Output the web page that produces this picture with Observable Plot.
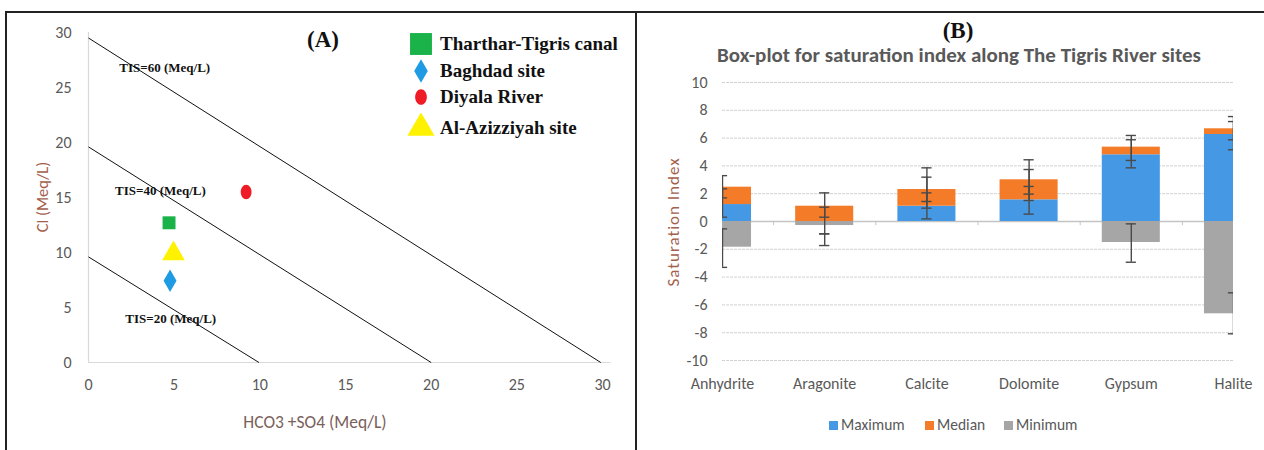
<!DOCTYPE html>
<html>
<head>
<meta charset="utf-8">
<script src="https://cdn.jsdelivr.net/npm/d3@7"></script>
<script src="https://cdn.jsdelivr.net/npm/@observablehq/plot@0.6"></script>
<style>
  html, body { margin: 0; padding: 0; background: #fff; }
  #wrap { position: relative; width: 1264px; height: 450px; overflow: hidden; background: #fff; }
  .abs { position: absolute; white-space: nowrap; }
  .ctr { transform: translate(-50%, -50%); }
  .serifb { font-family: "Liberation Serif", "Times New Roman", serif; font-weight: bold; color: #111; }
  .sans { font-family: Carlito, Lato, "Open Sans", sans-serif; }
  .line { position: absolute; background: #222; }
</style>
</head>
<body>
<div id="wrap">
  <div id="panelA" class="abs" style="left:0;top:0;width:636px;height:450px"></div>
  <div id="panelB" class="abs" style="left:636px;top:0;width:628px;height:450px"></div>
  <div class="line" style="left:5px;top:11px;width:1259px;height:2px"></div>
  <div class="line" style="left:5px;top:11px;width:1.5px;height:439px"></div>
  <div class="line" style="left:635px;top:11px;width:1.5px;height:439px"></div>
</div>
<script>
// ---------------- Panel A data ----------------
const sites = ["Tharthar-Tigris canal", "Baghdad site", "Diyala River", "Al-Azizziyah site"];
const hco3so4 = [4.7, 4.76, 9.2, 4.96];
const chloride = [12.7, 7.43, 15.5, 9.9];
const tisLabels = ["TIS=20 (Meq/L)", "TIS=40 (Meq/L)", "TIS=60 (Meq/L)"];
const tisYIntercept = [9.6, 19.6, 29.5];
const tisXIntercept = [9.95, 20, 29.9];
const tisLabelX = [4.8, 4.2, 4.45];
const tisLabelY = [4.0, 15.6, 26.8];
const axisATicks = [0, 5, 10, 15, 20, 25, 30];

// ---------------- Panel B data ----------------
const minerals = ["Anhydrite", "Aragonite", "Calcite", "Dolomite", "Gypsum", "Halite"];
const seriesNames = ["Maximum", "Median", "Minimum"];
const maximum = [1.22, 0, 1.1, 1.56, 4.8, 6.26];
const median = [1.25, 1.1, 1.2, 1.44, 0.55, 0.41];
const minimum = [-1.85, -0.29, 0, 0, -1.51, -6.64];
const maxErrLo = [0.31, -0.89, 0.19, 0.53, 3.86, 5.16];
const maxErrHi = [2.35, 1.03, 2.06, 2.52, 5.88, 7.19];
const medErrLo = [1.7, 0.31, 1.44, 1.51, 4.39, 5.88];
const medErrHi = [3.3, 2.06, 3.19, 4.44, 6.19, 7.55];
const minErrLo = [-3.3, -1.73, 0.96, 1.97, -2.93, -8.08];
const minErrHi = [-0.53, -0.89, 3.86, 3.74, -0.17, -5.13];
const axisBTicks = [-10, -8, -6, -4, -2, 0, 2, 4, 6, 8, 10];

// ---------------- styles ----------------
const SANS = "Carlito, Lato, 'Open Sans', sans-serif";
const SERIF = "'Liberation Serif', 'Times New Roman', serif";
const ellipse = {
  draw(ctx, size) {
    const r = Math.sqrt(size / Math.PI), rx = r * 0.82, ry = r * 1.1, k = 0.5523;
    ctx.moveTo(rx, 0);
    ctx.bezierCurveTo(rx, ry * k, rx * k, ry, 0, ry);
    ctx.bezierCurveTo(-rx * k, ry, -rx, ry * k, -rx, 0);
    ctx.bezierCurveTo(-rx, -ry * k, -rx * k, -ry, 0, -ry);
    ctx.bezierCurveTo(rx * k, -ry, rx, -ry * k, rx, 0);
    ctx.closePath();
  }
};
const siteStyle = {
  "Tharthar-Tigris canal": {symbol: d3.symbolSquare, fill: "#19b34a", r: 7.3, legendSize: 480},
  "Baghdad site": {symbol: d3.symbolDiamond, fill: "#1e9be2", r: 6.8, legendSize: 160},
  "Diyala River": {symbol: ellipse, fill: "#ee1c25", r: 6.6, legendSize: 160},
  "Al-Azizziyah site": {symbol: d3.symbolTriangle, fill: "#fff200", r: 8.4, legendSize: 320}
};
const seriesColor = {Maximum: "#4599e4", Median: "#f47b28", Minimum: "#a6a6a6"};

// ---------------- Panel A ----------------
const points = sites.map((s, i) => ({site: s, x: hco3so4[i], y: chloride[i]}));
const tis = tisLabels.map((t, i) => ({label: t, yi: tisYIntercept[i], xi: tisXIntercept[i], lx: tisLabelX[i], ly: tisLabelY[i]}));

const plotA = Plot.plot({
  width: 636, height: 450,
  marginLeft: 88, marginRight: 34, marginTop: 32, marginBottom: 88,
  style: {fontFamily: SANS, fontSize: "16px", color: "#595959", background: "transparent"},
  x: {domain: [0, 30], label: null},
  y: {domain: [0, 30], label: null},
  symbol: {domain: sites, range: sites.map(s => siteStyle[s].symbol)},
  color: {domain: sites, range: sites.map(s => siteStyle[s].fill)},
  marks: [
    Plot.ruleX([0], {y1: () => 0, y2: () => 30, stroke: "#d9d9d9", strokeWidth: 1.2}),
    Plot.ruleY([0], {x1: () => 0, x2: () => 30.5, stroke: "#d9d9d9", strokeWidth: 1.2}),
    Plot.link(tis, {x1: () => 0, y1: "yi", x2: "xi", y2: () => 0, stroke: "#111", strokeWidth: 1}),
    Plot.text(tis, {x: "lx", y: "ly", text: "label", fontFamily: SERIF, fontWeight: "bold", fontSize: 13, fill: "#111"}),
    ...points.map(p => Plot.dot([p], {x: "x", y: "y", symbol: "site", fill: "site", r: siteStyle[p.site].r})),
    Plot.axisX({ticks: axisATicks, tickSize: 0, tickPadding: 16, label: null}),
    Plot.axisY({ticks: axisATicks, tickSize: 0, tickPadding: 17, label: null})
  ]
});
document.getElementById("panelA").appendChild(plotA);

const wrap = document.getElementById("wrap");
function addText(html, cls, style) {
  const d = document.createElement("div");
  d.className = "abs " + cls;
  d.setAttribute("style", style);
  d.innerHTML = html;
  wrap.appendChild(d);
  return d;
}
addText("(A)", "serifb ctr", "left:323px;top:40px;font-size:23px");
addText("Cl (Meq/L)", "sans", "left:42px;top:197px;font-size:16.5px;color:#a3604c;transform:translate(-50%,-50%) rotate(-90deg)");
addText("HCO3 +SO4 (Meq/L)", "sans ctr", "left:315px;top:422px;font-size:17.5px;color:#7a5f5a");

// legend A
const legendY = [44, 71, 97, 128];
sites.forEach((s, i) => {
  const st = siteStyle[s];
  const svg = d3.create("svg").attr("width", 30).attr("height", 30)
    .style("position", "absolute").style("left", (421 - 15) + "px").style("top", (legendY[i] - 15) + "px");
  svg.append("path").attr("transform", "translate(15,15)")
    .attr("d", d3.symbol().type(st.symbol).size(st.legendSize)())
    .attr("fill", st.fill);
  wrap.appendChild(svg.node());
  addText(s, "serifb", "left:440px;top:" + (legendY[i] - 12) + "px;font-size:19px;line-height:24px");
});

// ---------------- Panel B ----------------
const bars = [];
minerals.forEach((m, i) => {
  bars.push({i, series: "Maximum", y1: 0, y2: maximum[i]});
  bars.push({i, series: "Median", y1: maximum[i], y2: maximum[i] + median[i]});
  bars.push({i, series: "Minimum", y1: 0, y2: minimum[i]});
});
const errs = [];
minerals.forEach((m, i) => {
  errs.push({i, lo: maxErrLo[i], hi: maxErrHi[i]});
  errs.push({i, lo: medErrLo[i], hi: medErrHi[i]});
  errs.push({i, lo: minErrLo[i], hi: minErrHi[i]});
});
const caps = errs.flatMap(e => [{i: e.i, v: e.lo}, {i: e.i, v: e.hi}]);
const boundaries = minerals.slice(1).map((m, i) => i + 0.5);
const halfBar = 0.284, halfCap = 0.05;

const plotB = Plot.plot({
  width: 628, height: 450,
  marginLeft: 86, marginRight: 31, marginTop: 82, marginBottom: 90,
  style: {fontFamily: SANS, fontSize: "16px", color: "#595959", background: "transparent"},
  x: {domain: [0, minerals.length - 1], label: null},
  y: {domain: [-10, 10], label: null},
  marks: [
    Plot.ruleY(axisBTicks.filter(d => d !== 0), {stroke: "#d2d2d2", strokeWidth: 1, strokeDasharray: "3,1"}),
    Plot.ruleY([0], {stroke: "#c4c4c4", strokeWidth: 1.3}),
    Plot.rectY(bars, {x1: d => d.i - halfBar, x2: d => d.i + halfBar, y1: "y1", y2: "y2", fill: d => seriesColor[d.series], clip: true}),
    Plot.ruleX(boundaries, {y1: () => 0, y2: () => -0.3, stroke: "#c4c4c4"}),
    Plot.ruleX(errs, {x: "i", y1: "lo", y2: "hi", stroke: "#4a4a4a", strokeWidth: 1.4, clip: true}),
    Plot.ruleY(caps, {y: "v", x1: d => d.i - halfCap, x2: d => d.i + halfCap, stroke: "#4a4a4a", strokeWidth: 1.4, clip: true}),
    Plot.axisX({ticks: d3.range(minerals.length), tickFormat: i => minerals[i], tickSize: 0, tickPadding: 17, label: null}),
    Plot.axisY({ticks: axisBTicks, tickFormat: d => String(d), tickSize: 0, tickPadding: 15, label: null})
  ]
});
document.getElementById("panelB").appendChild(plotB);

addText("(B)", "serifb ctr", "left:958px;top:31px;font-size:23px");
addText("Box-plot for saturation index along The Tigris River sites", "sans ctr", "left:959px;top:55px;font-size:21px;font-weight:bold;color:#595959");
addText("Saturation Index", "sans", "left:673px;top:222px;font-size:17px;letter-spacing:1px;color:#a3604c;transform:translate(-50%,-50%) rotate(-90deg)");

// legend B
const legendBX = [833, 929, 1008];
seriesNames.forEach((s, i) => {
  const sw = document.createElement("div");
  sw.className = "abs";
  sw.setAttribute("style", "left:" + (legendBX[i] - 4) + "px;top:421px;width:9px;height:9px;background:" + seriesColor[s]);
  wrap.appendChild(sw);
  addText(s, "sans", "left:" + (legendBX[i] + 8) + "px;top:415px;font-size:15.5px;line-height:20px;color:#595959");
});
</script>
</body>
</html>
